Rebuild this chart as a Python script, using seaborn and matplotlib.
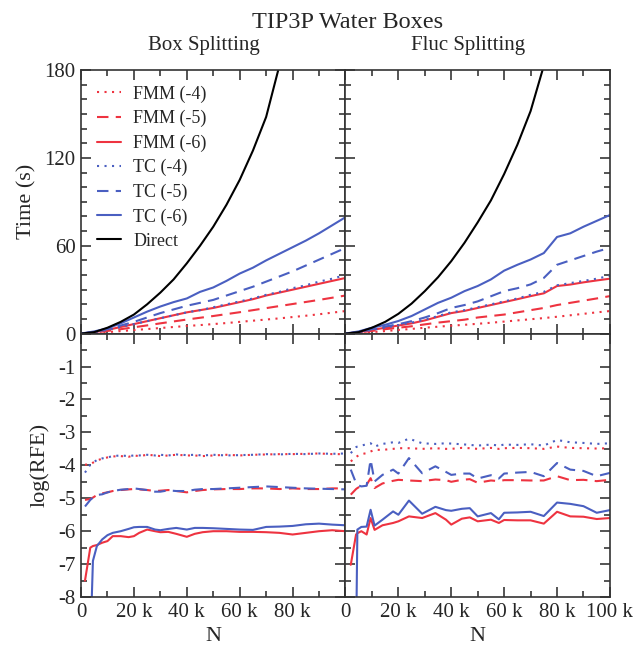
import numpy as np
import pandas as pd
import matplotlib
matplotlib.use("Agg")
import matplotlib.pyplot as plt
from matplotlib.ticker import MultipleLocator, FuncFormatter
import seaborn as sns

sns.set_style("ticks")
plt.rcParams['font.family'] = ['Liberation Serif', 'DejaVu Serif']
plt.rcParams['mathtext.fontset'] = 'stix'

RED  = "#ee3340"
BLUE = "#4a5fc1"

# ── Timing data (N in thousands, time in s) ───────────────────────
N_TIME = [0, 5, 10, 15, 20, 25, 30, 35, 40, 45, 50, 55, 60, 65, 70, 75, 80, 85, 90, 95, 100]

N_DIRECT = [0, 5, 10, 15, 20, 25, 30, 35, 40, 45, 50, 55, 60, 65, 70, 75, 80]
box_direct  = [0, 1, 4, 8, 13, 20, 28, 37, 48, 60, 73, 88, 105, 125, 148, 183, 210]
fluc_direct = [0, 1, 4, 8, 13.5, 20.5, 29, 38.5, 49.5, 62, 76, 91, 109, 129, 152, 183, 212]

box_fmm4 = [0, 0.4, 1, 1.7, 2.4, 3.1, 3.8, 4.5, 5.2, 5.8, 6.5, 7.2, 8, 8.8, 9.6, 10.4, 11.3, 12.2, 13.2, 14.3, 15.4]
box_fmm5 = [0, 0.7, 1.8, 3, 4.3, 5.6, 7, 8.3, 9.6, 10.8, 12, 13.3, 14.6, 16, 17.4, 18.8, 20.2, 21.6, 23, 24.5, 26]
box_fmm6 = [0, 1, 2.5, 4.5, 6.5, 8.5, 10.5, 12.5, 14.5, 16, 17.5, 19.5, 21.5, 23.5, 26, 28, 30, 32, 34, 36, 38]
box_tc4  = [0, 1, 2.5, 4.5, 6.5, 8.5, 10.5, 12.5, 14.5, 16, 18, 20, 22, 24, 26.5, 28.5, 31, 33, 35.5, 37.5, 40]
box_tc5  = [0, 1, 3, 5.5, 8, 11, 14, 16.5, 19, 21, 23, 26, 29, 32, 35.5, 39, 42.5, 46.5, 50.5, 54.5, 58.5]
box_tc6  = [0, 1.5, 3.5, 7, 11, 15, 18.5, 21.5, 24, 28.5, 31.5, 36, 41, 45, 50, 54.5, 59, 63.5, 68.5, 74, 79.5]

fluc_fmm4 = [0, 0.4, 1, 1.7, 2.5, 3.2, 4, 4.7, 5.4, 6, 6.7, 7.4, 8.2, 9, 9.8, 10.6, 11.5, 12.5, 13.5, 14.5, 15.4]
fluc_fmm5 = [0, 0.7, 1.8, 3, 4, 5, 6.3, 7.5, 8.5, 9.5, 11, 12, 13, 14.5, 16, 17.5, 19.5, 21, 22.5, 24, 25.6]
fluc_fmm6 = [0, 1, 2.5, 4, 5.5, 7, 9, 11.5, 14, 15.5, 17.5, 19.5, 21.5, 23.5, 25.6, 27.5, 32.5, 33.5, 35, 36.3, 37.5]
fluc_tc4  = [0, 1, 2.5, 4, 5.8, 7.5, 9.5, 12, 14.5, 16, 18, 20, 22, 24, 26.5, 28.5, 33, 34.5, 36, 37.5, 39.5]
fluc_tc5  = [0, 1, 3, 4.8, 6.4, 8.5, 11, 14, 17.5, 19.5, 22, 25.5, 29, 31, 33.6, 38, 47, 50, 53, 56, 58.6]
fluc_tc6  = [0, 1.5, 4, 6, 8.6, 12, 16.5, 21, 24.5, 29, 32.5, 37, 43, 47, 50.6, 55, 66, 68.5, 73, 77, 81]

# ── Error data: log(RFE) ──────────────────────────────────────────
N_ERR_BOX = [1.5, 3.5, 4.5, 6, 8, 10, 12, 15, 18, 20, 22, 25, 28, 30, 33, 36, 40, 43, 46, 50,
             55, 60, 65, 70, 75, 80, 85, 90, 95, 100]
err_box_fmm4 = [-3.98, -3.97, -3.92, -3.85, -3.8, -3.76, -3.73, -3.72, -3.74, -3.7, -3.72, -3.68, -3.7, -3.72, -3.7,
                -3.68, -3.7, -3.7, -3.72, -3.7, -3.68, -3.7, -3.68, -3.67, -3.66, -3.66, -3.65, -3.64, -3.66, -3.66]
err_box_fmm5 = [-5.05, -5.02, -4.98, -4.9, -4.85, -4.82, -4.78, -4.75, -4.73, -4.72, -4.73, -4.75, -4.78, -4.77, -4.75,
                -4.78, -4.82, -4.78, -4.75, -4.73, -4.72, -4.72, -4.7, -4.7, -4.72, -4.7, -4.72, -4.72, -4.7, -4.7]
err_box_fmm6 = [-7.5, -6.5, -6.45, -6.42, -6.35, -6.3, -6.15, -6.15, -6.18, -6.15, -6.05, -5.95, -6.0, -6.03, -6.02,
                -6.08, -6.17, -6.08, -6.03, -6.0, -6.0, -6.02, -6.02, -6.03, -6.05, -6.1, -6.05, -6.0, -5.97, -6.0]
err_box_tc4  = [-4.22, -3.98, -3.92, -3.84, -3.79, -3.76, -3.72, -3.7, -3.72, -3.7, -3.7, -3.68, -3.7, -3.68, -3.7,
                -3.67, -3.69, -3.68, -3.7, -3.68, -3.7, -3.69, -3.68, -3.66, -3.67, -3.65, -3.66, -3.64, -3.65, -3.64]
err_box_tc5  = [-5.25, -5.05, -4.98, -4.9, -4.88, -4.82, -4.78, -4.74, -4.72, -4.7, -4.72, -4.75, -4.8, -4.8, -4.76,
                -4.78, -4.78, -4.74, -4.72, -4.72, -4.7, -4.68, -4.66, -4.64, -4.66, -4.68, -4.7, -4.71, -4.72, -4.73]
err_box_tc6  = [np.nan, -9.5, -6.9, -6.45, -6.25, -6.12, -6.05, -6.0, -5.93, -5.88, -5.87, -5.87, -5.95, -5.97, -5.93,
                -5.9, -5.95, -5.9, -5.9, -5.91, -5.93, -5.95, -5.96, -5.87, -5.86, -5.84, -5.79, -5.77, -5.8, -5.82]

N_ERR_FLUC = [2, 4, 4.5, 6, 8, 9.5, 11, 14, 18, 20, 24, 29, 34, 38, 40, 44, 47, 50, 55, 58,
              60, 65, 70, 75, 80, 85, 90, 95, 100]
err_fluc_fmm4 = [-3.88, -3.75, -3.72, -3.66, -3.63, -3.58, -3.53, -3.53, -3.5, -3.48, -3.48, -3.5, -3.48, -3.5, -3.5,
                 -3.47, -3.48, -3.5, -3.47, -3.5, -3.48, -3.47, -3.48, -3.5, -3.43, -3.47, -3.48, -3.49, -3.48]
err_fluc_fmm5 = [-4.89, -4.72, -4.69, -4.62, -4.59, -4.39, -4.69, -4.55, -4.47, -4.44, -4.46, -4.48, -4.43, -4.45, -4.5,
                 -4.44, -4.42, -4.53, -4.46, -4.48, -4.45, -4.45, -4.46, -4.46, -4.33, -4.45, -4.44, -4.48, -4.44]
err_fluc_fmm6 = [-7.02, -6.1, -6.06, -6.0, -6.1, -5.6, -5.96, -5.82, -5.75, -5.7, -5.55, -5.6, -5.45, -5.65, -5.8,
                 -5.62, -5.58, -5.7, -5.65, -5.75, -5.66, -5.67, -5.67, -5.77, -5.41, -5.55, -5.56, -5.63, -5.6]
err_fluc_tc4  = [-3.63, -3.45, -3.43, -3.4, -3.36, -3.33, -3.43, -3.35, -3.3, -3.32, -3.19, -3.33, -3.35, -3.33, -3.34,
                 -3.36, -3.38, -3.4, -3.37, -3.4, -3.37, -3.38, -3.36, -3.4, -3.23, -3.3, -3.32, -3.35, -3.33]
err_fluc_tc5  = [-4.13, -4.54, -4.6, -4.64, -4.62, -3.83, -4.49, -4.29, -4.13, -4.25, -3.78, -4.24, -4.03, -4.2, -4.29,
                 -4.25, -4.25, -4.4, -4.3, -4.4, -4.25, -4.22, -4.2, -4.33, -3.93, -4.13, -4.17, -4.33, -4.23]
err_fluc_tc6  = [np.nan, -9.5, -5.95, -5.87, -5.86, -5.35, -5.83, -5.65, -5.4, -5.5, -5.07, -5.47, -5.26, -5.36, -5.38,
                 -5.32, -5.3, -5.55, -5.45, -5.64, -5.44, -5.43, -5.41, -5.54, -5.13, -5.17, -5.24, -5.44, -5.36]

LABELS = ["FMM (-4)", "FMM (-5)", "FMM (-6)", "TC (-4)", "TC (-5)", "TC (-6)"]
COLORS = [RED, RED, RED, BLUE, BLUE, BLUE]
STYLES = [(0, (1, 2.6)), (0, (5.5, 3.5)), "-", (0, (1, 2.6)), (0, (5.5, 3.5)), "-"]
LW = 1.5


def draw(ax, x, series, direct=None, with_label=False):
    for y, lab, col, ls in zip(series, LABELS, COLORS, STYLES):
        df = pd.DataFrame({"N": x, "v": y})
        sns.lineplot(data=df, x="N", y="v", ax=ax, color=col, linestyle=ls, lw=LW,
                     label=lab if with_label else None, legend=False)
    if direct is not None:
        df = pd.DataFrame({"N": N_DIRECT, "v": direct})
        sns.lineplot(data=df, x="N", y="v", ax=ax, color="black", lw=LW,
                     label="Direct" if with_label else None, legend=False)


fig, axes = plt.subplots(2, 2, figsize=(6.38, 6.49), dpi=100, sharex='col', sharey='row')
fig.subplots_adjust(left=0.127, right=0.956, top=0.892, bottom=0.080, wspace=0, hspace=0)

draw(axes[0, 0], N_TIME, [box_fmm4, box_fmm5, box_fmm6, box_tc4, box_tc5, box_tc6], box_direct, True)
draw(axes[0, 1], N_TIME, [fluc_fmm4, fluc_fmm5, fluc_fmm6, fluc_tc4, fluc_tc5, fluc_tc6], fluc_direct)
draw(axes[1, 0], N_ERR_BOX, [err_box_fmm4, err_box_fmm5, err_box_fmm6, err_box_tc4, err_box_tc5, err_box_tc6])
draw(axes[1, 1], N_ERR_FLUC, [err_fluc_fmm4, err_fluc_fmm5, err_fluc_fmm6, err_fluc_tc4, err_fluc_tc5, err_fluc_tc6])

# ── Axes styling ──────────────────────────────────────────────────
for ax in axes.flat:
    ax.set_xlim(0, 100)
    ax.xaxis.set_major_locator(MultipleLocator(20))
    ax.xaxis.set_minor_locator(MultipleLocator(10))
    ax.tick_params(which='both', direction='in', top=True, right=True, labelsize=15, pad=4)
    ax.tick_params(which='major', length=7, width=1.1)
    ax.tick_params(which='minor', length=4, width=1.1)
    for sp in ax.spines.values():
        sp.set_linewidth(1.2)
        sp.set_color("#333333")
    ax.set_xlabel("")
    ax.set_ylabel("")

axes[0, 0].set_ylim(0, 180)
axes[0, 0].yaxis.set_major_locator(MultipleLocator(60))
axes[0, 0].yaxis.set_minor_locator(MultipleLocator(10))

axes[1, 0].set_ylim(-8, 0)
axes[1, 0].yaxis.set_major_locator(MultipleLocator(1))
axes[1, 0].yaxis.set_minor_locator(MultipleLocator(0.5))
axes[1, 0].yaxis.set_major_formatter(FuncFormatter(lambda v, p: "" if abs(v) < 1e-9 else f"{int(round(v))}"))

axes[1, 0].xaxis.set_major_formatter(FuncFormatter(
    lambda v, p: "" if v > 99 else ("0" if v < 1 else f"{int(round(v))} k")))
axes[1, 1].xaxis.set_major_formatter(FuncFormatter(
    lambda v, p: "0" if v < 1 else f"{int(round(v))} k"))

axes[0, 0].set_ylabel("Time (s)", fontsize=16, labelpad=6)
axes[1, 0].set_ylabel("log(RFE)", fontsize=16, labelpad=6)
axes[1, 0].set_xlabel("N", fontsize=16, labelpad=4)
axes[1, 1].set_xlabel("N", fontsize=16, labelpad=4)

axes[0, 0].legend(loc='upper left', bbox_to_anchor=(0.047, 0.955), frameon=False, fontsize=13,
                  handlelength=1.3, handletextpad=0.7, labelspacing=0.4, borderaxespad=0, borderpad=0.2)

fig.text(0.545, 0.965, "TIP3P Water Boxes", ha='center', va='center', fontsize=17.5)
fig.text(0.319, 0.930, "Box Splitting", ha='center', va='center', fontsize=15)
fig.text(0.733, 0.930, "Fluc Splitting", ha='center', va='center', fontsize=15)

fig.savefig("out.png", dpi=100)
